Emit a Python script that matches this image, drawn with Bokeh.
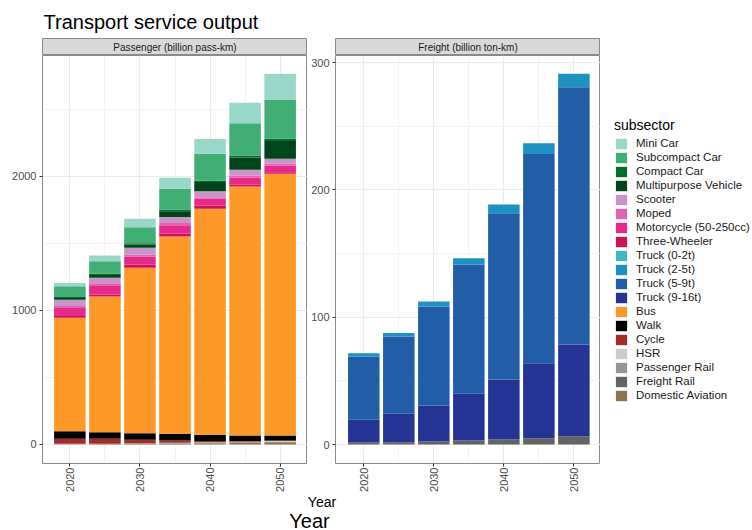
import math
from bokeh.plotting import figure
from bokeh.models import ColumnDataSource, Range1d, FixedTicker, Label, Legend, LegendItem
from bokeh.layouts import column, row
from bokeh.embed import file_html
from bokeh.resources import INLINE

FONT = "Liberation Sans"

years = [2020, 2025, 2030, 2035, 2040, 2045, 2050]

# legend order (first = top of stack)
subsectors = [
    "Mini Car", "Subcompact Car", "Compact Car", "Multipurpose Vehicle",
    "Scooter", "Moped", "Motorcycle (50-250cc)", "Three-Wheeler",
    "Truck (0-2t)", "Truck (2-5t)", "Truck (5-9t)", "Truck (9-16t)",
    "Bus", "Walk", "Cycle", "HSR", "Passenger Rail", "Freight Rail",
    "Domestic Aviation",
]
colors = [
    "#99d8c9", "#41ae76", "#006d2c", "#00441b",
    "#c994c7", "#df65b0", "#e7298a", "#ce1256",
    "#41b6c4", "#1d91c0", "#225ea8", "#253494",
    "#fe9929", "#000000", "#a52a2a", "#cccccc", "#969696", "#636363",
    "#8c7350",
]

# Passenger (billion pass-km)
pass_mini_car = [25, 42, 62, 82, 110, 152, 191]
pass_subcompact_car = [79, 94, 120, 157, 199, 241, 294]
pass_compact_car = [8, 10, 10, 10, 12, 15, 17]
pass_multipurpose = [12, 20, 24, 44, 68, 92, 132]
pass_scooter = [48, 40, 50, 45, 44, 43, 37]
pass_moped = [14, 15, 15, 15, 12, 14, 13]
pass_motorcycle = [60, 70, 60, 65, 50, 55, 50]
pass_three_wheeler = [14, 15, 25, 20, 25, 13, 12]
pass_bus = [846, 1012, 1234, 1472, 1687, 1858, 1953]
pass_walk = [57, 50, 49, 50, 47, 42, 37]
pass_cycle = [37, 36, 25, 17, 8, 4, 5]
pass_hsr = [0, 0, 1, 2, 2, 3, 3]
pass_rail = [3, 3, 4, 4, 5, 5, 5]
pass_aviation = [2, 3, 5, 7, 10, 13, 17]

# Freight (billion ton-km)
frt_truck_0_2 = [0, 0, 0, 0, 0, 0, 0]
frt_truck_2_5 = [2.6, 2.9, 3.9, 5.0, 6.8, 8.4, 10.5]
frt_truck_5_9 = [49.7, 60.7, 77.8, 101.6, 130.6, 164.4, 202.1]
frt_truck_9_16 = [17.6, 22.3, 28.2, 36.7, 47.2, 58.9, 72.3]
frt_freight_rail = [1.8, 1.8, 2.4, 3.1, 3.9, 5.0, 6.3]

passenger = {
    "Mini Car": pass_mini_car, "Subcompact Car": pass_subcompact_car,
    "Compact Car": pass_compact_car, "Multipurpose Vehicle": pass_multipurpose,
    "Scooter": pass_scooter, "Moped": pass_moped,
    "Motorcycle (50-250cc)": pass_motorcycle, "Three-Wheeler": pass_three_wheeler,
    "Bus": pass_bus, "Walk": pass_walk, "Cycle": pass_cycle, "HSR": pass_hsr,
    "Passenger Rail": pass_rail, "Domestic Aviation": pass_aviation,
}
freight = {
    "Truck (0-2t)": frt_truck_0_2, "Truck (2-5t)": frt_truck_2_5,
    "Truck (5-9t)": frt_truck_5_9, "Truck (9-16t)": frt_truck_9_16,
    "Freight Rail": frt_freight_rail,
}

n = len(subsectors)
keys = ["s%d" % i for i in range(n)]
stack_idx = list(reversed(range(n)))  # bottom first
stackers = [keys[i] for i in stack_idx]
stack_colors = [colors[i] for i in stack_idx]


def make_source(table):
    data = {"year": years}
    for i, name in enumerate(subsectors):
        data[keys[i]] = table.get(name, [0] * len(years))
    return ColumnDataSource(data)


def blank(width, height, xr, yr, **kw):
    p = figure(width=width, height=height, x_range=Range1d(*xr), y_range=Range1d(*yr),
               toolbar_location=None, output_backend="svg",
               x_axis_location=None, y_axis_location=None, **kw)
    p.grid.visible = False
    return p


def style_panel(p, yticks, yminor):
    xt = FixedTicker(ticks=[2020, 2030, 2040, 2050], minor_ticks=[2025, 2035, 2045])
    yt = FixedTicker(ticks=yticks, minor_ticks=yminor)
    p.xaxis.ticker = xt
    p.xgrid.ticker = xt
    p.yaxis.ticker = yt
    p.ygrid.ticker = yt
    for ax in p.axis:
        ax.axis_line_color = None
        ax.major_tick_line_color = "#333333"
        ax.major_tick_out = 3
        ax.major_tick_in = 0
        ax.minor_tick_line_color = None
        ax.major_label_text_color = "#4d4d4d"
        ax.major_label_text_font = FONT
        ax.major_label_text_font_size = "11px"
        ax.major_label_standoff = 2
    p.xaxis.major_label_orientation = math.pi / 2
    p.xaxis.major_label_standoff = 0
    p.grid.grid_line_color = "#ebebeb"
    p.grid.grid_line_width = 1
    p.grid.minor_grid_line_color = "#ebebeb"
    p.grid.minor_grid_line_width = 0.6
    p.outline_line_color = "#8a8a8a"
    p.outline_line_width = 1


def make_strip(text, width, left):
    s = blank(width, 17, (0, 1), (0, 1), min_border_left=left, min_border_right=0,
              min_border_top=0, min_border_bottom=0)
    s.background_fill_color = "#d9d9d9"
    s.outline_line_color = "#8a8a8a"
    s.add_layout(Label(x=0.5, y=0.5, text=text, text_align="center", text_baseline="middle",
                       text_font=FONT, text_font_size="10px", text_color="#1a1a1a"))
    return s


# Title
title_fig = blank(752, 38, (0, 752), (0, 38), min_border=0)
title_fig.outline_line_color = None
title_fig.add_layout(Label(x=43, y=17, text="Transport service output", text_font=FONT,
                           text_font_size="20px", text_color="#000000",
                           text_baseline="alphabetic"))

# Passenger panel
pl = figure(width=307, height=440, x_range=Range1d(2016.1, 2053.9), y_range=Range1d(-142, 2903),
            toolbar_location=None, output_backend="svg",
            min_border_left=42, min_border_right=0, min_border_top=0, min_border_bottom=32)
pl.vbar_stack(stackers, x="year", width=4.5, fill_color=stack_colors, line_color=None,
              source=make_source(passenger))
style_panel(pl, [0, 1000, 2000], [500, 1500, 2500])

# Freight panel
pr = figure(width=293, height=440, x_range=Range1d(2015.96, 2053.8), y_range=Range1d(-14.9, 305.6),
            toolbar_location=None, output_backend="svg",
            min_border_left=28, min_border_right=0, min_border_top=0, min_border_bottom=32)
pr.vbar_stack(stackers, x="year", width=4.5, fill_color=stack_colors, line_color=None,
              source=make_source(freight))
style_panel(pr, [0, 100, 200, 300], [50, 150, 250])

# Legend panel (keys of the same stacked series, not drawn)
lg = blank(152, 457, (2015.96, 2053.8), (-14.9, 305.6), min_border=0)
lg.outline_line_color = None
key_rends = lg.vbar_stack(stackers, x="year", width=4.5, fill_color=stack_colors, line_color=None,
                          source=make_source(freight))
for r in key_rends:
    r.visible = False

items = []
for i, name in enumerate(subsectors):
    r = key_rends[stack_idx.index(i)]
    items.append(LegendItem(label=name, renderers=[r]))
legend = Legend(items=items, location=(14, 93), margin=0, padding=0,
                title="subsector", title_text_font=FONT, title_text_font_size="14px",
                title_text_font_style="normal", title_text_color="#000000", title_standoff=3,
                label_text_font=FONT, label_text_font_size="11.5px", label_text_color="#1a1a1a",
                glyph_width=14, glyph_height=13, label_height=14, spacing=0, label_standoff=8,
                background_fill_alpha=0, border_line_alpha=0, click_policy="none")
lg.add_layout(legend, "center")

strip_l = make_strip("Passenger (billion pass-km)", 307, 42)
strip_r = make_strip("Freight (billion ton-km)", 293, 28)

# Bottom axis titles
bottom_fig = blank(752, 35, (0, 752), (0, 35), min_border=0)
bottom_fig.outline_line_color = None
bottom_fig.add_layout(Label(x=321.5, y=29, text="Year", text_font=FONT, text_font_size="14px",
                            text_color="#000000", text_align="center", text_baseline="alphabetic"))
bottom_fig.add_layout(Label(x=309, y=10, text="Year", text_font=FONT, text_font_size="20px",
                            text_color="#000000", text_align="center", text_baseline="alphabetic"))

layout = column(title_fig,
                row(column(strip_l, pl, spacing=0), column(strip_r, pr, spacing=0), lg, spacing=0),
                bottom_fig, spacing=0)

open("out.html", "w").write(file_html(layout, INLINE))
